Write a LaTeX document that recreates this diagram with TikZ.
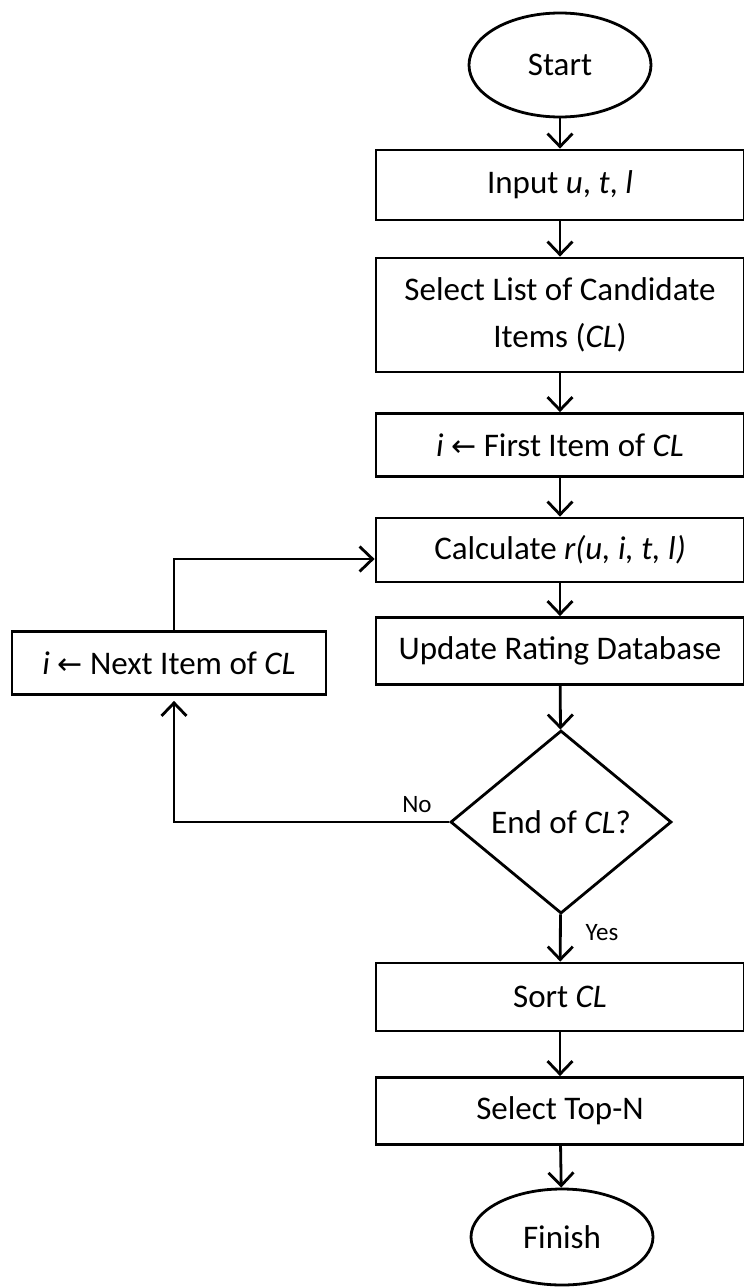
\documentclass[tikz,border=0pt]{standalone}
\usepackage{fontspec}
\setmainfont{Carlito}
\newfontfamily\symbfont{DejaVu Sans}
\usetikzlibrary{shapes.geometric,arrows.meta}

\newcommand{\getsarrow}{{\symbfont\fontsize{30}{30}\selectfont ←}}

\tikzset{
  flow/.style={line width=2.8pt, -{Straight Barb[length=13pt,width=25pt,line width=2.8pt]}},
  procbox/.style={draw, line width=2.8pt, rectangle, minimum width=368pt, align=center, inner sep=0pt},
  termbox/.style={draw, line width=2.8pt, ellipse, minimum width=182pt, inner sep=0pt},
  decbox/.style={draw, line width=2.8pt, diamond, minimum width=221pt, minimum height=183pt, inner sep=0pt},
  lbl/.style={font=\fontsize{25}{28}\selectfont}
}

\begin{document}
\begin{tikzpicture}[x=1pt, y=-1pt, font=\fontsize{33}{47}\selectfont]

\useasboundingbox (0,0) rectangle (744,1288);
\clip (0,0) rectangle (744,1288);

\node (start) at (560, 65) [termbox, minimum height=104pt] {Start};
\node (input) at (560, 185) [procbox, minimum height=70pt] {Input \textit{u}, \textit{t}, \textit{l}};
\node (select) at (560, 315) [procbox, minimum height=114pt] {Select List of Candidate\\Items (\textit{CL})};
\node (first) at (560, 445) [procbox, minimum height=63pt] {\textit{i} \getsarrow{} First Item of \textit{CL}};
\node (calc) at (560, 550) [procbox, minimum height=64pt] {Calculate \textit{r(u, i, t, l)}};
\node (update) at (560, 651) [procbox, minimum height=67pt] {Update Rating Database};
\node (endcl) at (561, 822) [decbox] {End of \textit{CL}?};
\node (next) at (169, 663) [procbox, minimum width=314pt, minimum height=63pt] {\textit{i} \getsarrow{} Next Item of \textit{CL}};
\node (sort) at (560, 997) [procbox, minimum height=68pt] {Sort \textit{CL}};
\node (topn) at (560, 1111) [procbox, minimum height=67pt] {Select Top-N};
\node (finish) at (562, 1237) [termbox, minimum height=96pt] {Finish};

\node (no) at (417, 805) [lbl] {No};
\node (yes) at (602, 933) [lbl] {Yes};

\draw [flow] (start) -- (input);
\draw [flow] (input) -- (select);
\draw [flow] (select) -- (first);
\draw [flow] (first) -- (calc);
\draw [flow] (calc) -- (update);
\draw [flow] (update) -- (endcl);
\draw [flow] (endcl) -- (sort);
\draw [flow] (sort) -- (topn);
\draw [flow] (topn) -- (finish);

\draw [flow, shorten >=5pt] (endcl.west) -| ([xshift=5pt]next.south);
\draw [flow] ([xshift=5pt]next.north) |- ([yshift=-9pt]calc.west);

\end{tikzpicture}
\end{document}
